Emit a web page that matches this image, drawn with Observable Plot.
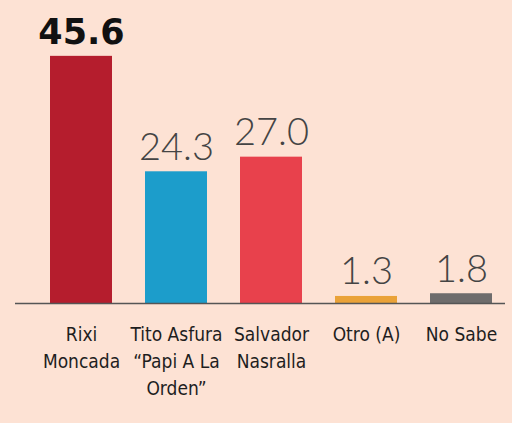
<!DOCTYPE html>
<html><head><meta charset="utf-8">
<script src="https://cdn.jsdelivr.net/npm/d3@7"></script>
<script src="https://cdn.jsdelivr.net/npm/@observablehq/plot@0.6"></script>
<style>
html,body{margin:0;padding:0;background:#fde2d4;}
</style>
</head><body><div id="chart"></div>
<script>
const categories = ["Rixi\nMoncada", "Tito Asfura\n“Papi A La\nOrden”", "Salvador\nNasralla", "Otro (A)", "No Sabe"];
const values = [45.6, 24.3, 27.0, 1.3, 1.8];
const colors = ["#b51d2d", "#1c9dcb", "#e8414c", "#eaa238", "#6e6c6c"];
const labels = ["45.6", "24.3", "27.0", "1.3", "1.8"];

const data = categories.map((c, i) => ({cat: c, value: values[i], color: colors[i], label: labels[i], top: i === 0}));

const chart = Plot.plot({
  width: 512,
  height: 423,
  marginLeft: 48,
  marginRight: 18,
  marginTop: 32,
  marginBottom: 120,
  style: {background: "#fde2d4"},
  x: {domain: categories, paddingInner: 0.35, paddingOuter: 0, label: null},
  y: {domain: [0, 50], axis: null},
  marks: [
    Plot.barY(data, {x: "cat", y: "value", fill: "color"}),
    Plot.ruleY([0], {stroke: "#555", strokeWidth: 1.5, insetLeft: -33, insetRight: -11}),
    Plot.text(data.filter(d => !d.top), {x: "cat", y: "value", text: "label", dy: -12, lineAnchor: "bottom", fontSize: 38, fontWeight: 300, fill: "#444", fontFamily: "Lato, 'Open Sans', sans-serif"}),
    Plot.text(data.filter(d => d.top), {x: "cat", y: "value", text: "label", dy: -12, lineAnchor: "bottom", fontSize: 35, fontWeight: "bold", fill: "#111", fontFamily: "'DejaVu Sans', sans-serif", letterSpacing: 2}),
    Plot.axisX({tickSize: 0, tickPadding: 19, fontSize: 19, fill: "#1e1e1e", fontFamily: "'DejaVu Sans Condensed', 'Liberation Sans Narrow', sans-serif", lineHeight: 1.4})
  ]
});
document.getElementById("chart").appendChild(chart);
</script>
</body></html>
